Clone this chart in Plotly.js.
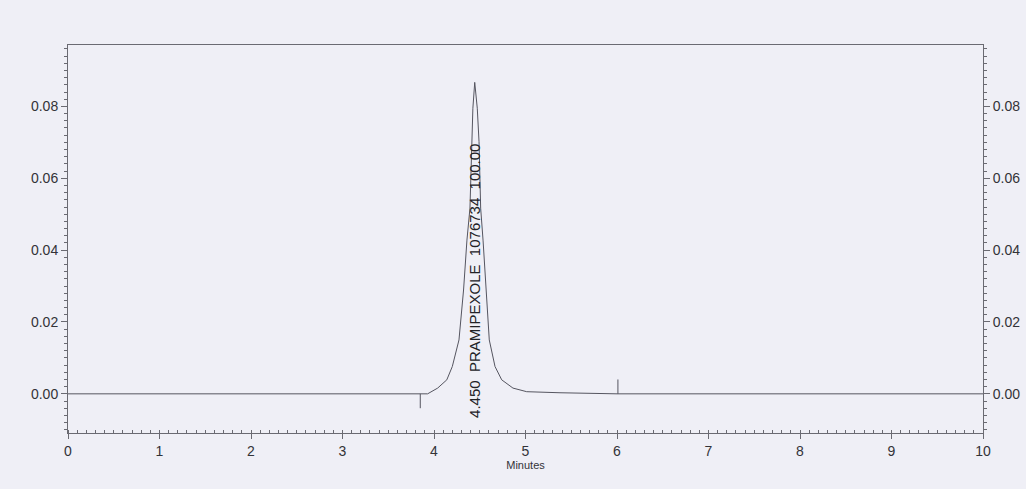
<!DOCTYPE html>
<html>
<head>
<meta charset="utf-8">
<script src="https://cdn.plot.ly/plotly-3.0.1.min.js"></script>
<style>
html,body{margin:0;padding:0;background:#efeff6;}
#chart{width:1026px;height:489px;}
</style>
</head>
<body>
<div id="chart"></div>
<script>
// Chromatogram trace (minutes vs AU)
const timeMin = [0, 3.85, 3.93, 4.04, 4.14, 4.20, 4.273, 4.323, 4.36, 4.393, 4.412, 4.425, 4.445, 4.473, 4.492, 4.51, 4.536, 4.568, 4.604, 4.667, 4.74, 4.863, 5.013, 5.377, 5.8, 6.0, 10];
const absorbance = [0, 0, 0, 0.0016, 0.0039, 0.0076, 0.0150, 0.0289, 0.0428, 0.0517, 0.0702, 0.0795, 0.0867, 0.0795, 0.0702, 0.0517, 0.0428, 0.0289, 0.0150, 0.0076, 0.0039, 0.0016, 0.0006, 0.0003, 0.0001, 0, 0];

// Integration event marks
const startMarkT = [3.85, 3.85];
const startMarkY = [0, -0.004];
const endMarkT = [6.01, 6.01];
const endMarkY = [0, 0.004];

// Peak label
const peakTime = 4.45;
const peakLabel = "4.450\u00A0\u00A0PRAMIPEXOLE\u00A0\u00A01076734\u00A0\u00A0100.00";
const peakLabelBottom = -0.0072;

const yTicks = [0, 0.02, 0.04, 0.06, 0.08];
const yTickText = ["0.00", "0.02", "0.04", "0.06", "0.08"];
const xTicks = [0,1,2,3,4,5,6,7,8,9,10];

const lineCol = '#555560';
const axCol = '#6a6a72';
const txtCol = '#333338';
const yRange = [-0.0109, 0.0971];

const traces = [
  {x: timeMin, y: absorbance, type: 'scatter', mode: 'lines',
   line: {color: lineCol, width: 1}, hoverinfo: 'skip', showlegend: false},
  {x: startMarkT, y: startMarkY, type: 'scatter', mode: 'lines',
   line: {color: lineCol, width: 1}, hoverinfo: 'skip', showlegend: false},
  {x: endMarkT, y: endMarkY, type: 'scatter', mode: 'lines',
   line: {color: lineCol, width: 1}, hoverinfo: 'skip', showlegend: false},
  {x: [0], y: [0], type: 'scatter', mode: 'none', yaxis: 'y2',
   hoverinfo: 'skip', showlegend: false}
];

const font = {family: '"Liberation Sans", Arial, sans-serif', size: 14, color: txtCol};

const layout = {
  width: 1026, height: 489,
  margin: {l: 68, r: 43, t: 45, b: 56},
  paper_bgcolor: '#efeff6',
  plot_bgcolor: '#efeff6',
  font: font,
  showlegend: false,
  xaxis: {
    range: [0, 10], tickvals: xTicks, ticktext: xTicks.map(String),
    showline: true, linecolor: axCol, linewidth: 1, mirror: true,
    ticks: 'outside', ticklen: 5, tickcolor: axCol, tickwidth: 1,
    minor: {dtick: 0.1, ticks: 'inside', ticklen: 3, tickcolor: axCol, showgrid: false},
    showgrid: false, zeroline: false,
    tickfont: {family: font.family, size: 14, color: txtCol},
    title: {text: 'Minutes', font: {family: font.family, size: 11, color: txtCol}, standoff: 3}
  },
  yaxis: {
    range: yRange, tickvals: yTicks, ticktext: yTickText,
    showline: true, linecolor: axCol, linewidth: 1,
    ticks: 'outside', ticklen: 6, tickcolor: axCol, tickwidth: 1,
    minor: {dtick: 0.002, tick0: 0, ticks: 'outside', ticklen: 3, tickcolor: axCol, showgrid: false},
    showgrid: false, zeroline: false,
    tickfont: {family: font.family, size: 14, color: txtCol}
  },
  yaxis2: {
    overlaying: 'y', side: 'right', range: yRange,
    tickvals: yTicks, ticktext: yTickText,
    showline: true, linecolor: axCol, linewidth: 1,
    ticks: 'outside', ticklen: 6, tickcolor: axCol, tickwidth: 1,
    minor: {dtick: 0.002, tick0: 0, ticks: 'outside', ticklen: 3, tickcolor: axCol, showgrid: false},
    showgrid: false, zeroline: false,
    tickfont: {family: font.family, size: 14, color: txtCol}
  },
  annotations: [{
    x: peakTime, y: peakLabelBottom, xref: 'x', yref: 'y',
    text: peakLabel, textangle: -90, showarrow: false,
    xanchor: 'center', yanchor: 'bottom',
    font: {family: font.family, size: 15, color: '#222226'}
  }]
};

Plotly.newPlot('chart', traces, layout, {staticPlot: true, displayModeBar: false});
</script>
</body>
</html>
